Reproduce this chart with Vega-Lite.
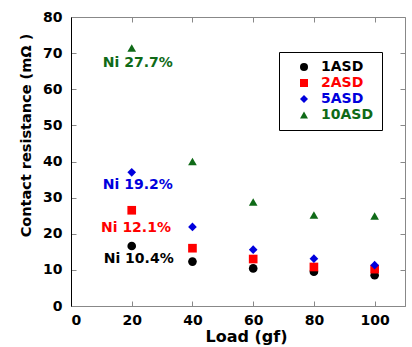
{
  "$schema": "https://vega.github.io/schema/vega-lite/v6.json",
  "autosize": {"type": "none"},
  "width": 334,
  "height": 289,
  "padding": {"left": 71, "top": 17, "right": 7, "bottom": 41},
  "background": "white",
  "config": {
    "view": {"stroke": "#888888", "strokeWidth": 1},
    "axis": {
      "grid": false,
      "labelFont": "DejaVu Sans",
      "labelFontWeight": "bold",
      "labelFontSize": 14,
      "labelColor": "black",
      "titleFont": "DejaVu Sans",
      "titleFontWeight": "bold",
      "titleFontSize": 16,
      "titleColor": "black",
      "tickColor": "#888888",
      "tickSize": -5,
      "tickWidth": 1
    }
  },
  "datasets": {
    "points": [
      {"load": 20, "resistance": 16.6, "series": "1ASD"},
      {"load": 40, "resistance": 12.3, "series": "1ASD"},
      {"load": 60, "resistance": 10.4, "series": "1ASD"},
      {"load": 80, "resistance": 9.5, "series": "1ASD"},
      {"load": 100, "resistance": 8.5, "series": "1ASD"},
      {"load": 20, "resistance": 26.5, "series": "2ASD"},
      {"load": 40, "resistance": 16.0, "series": "2ASD"},
      {"load": 60, "resistance": 13.0, "series": "2ASD"},
      {"load": 80, "resistance": 10.8, "series": "2ASD"},
      {"load": 100, "resistance": 10.2, "series": "2ASD"},
      {"load": 20, "resistance": 37.0, "series": "5ASD"},
      {"load": 40, "resistance": 21.9, "series": "5ASD"},
      {"load": 60, "resistance": 15.6, "series": "5ASD"},
      {"load": 80, "resistance": 13.1, "series": "5ASD"},
      {"load": 100, "resistance": 11.3, "series": "5ASD"},
      {"load": 20, "resistance": 71.4, "series": "10ASD"},
      {"load": 40, "resistance": 40.0, "series": "10ASD"},
      {"load": 60, "resistance": 28.8, "series": "10ASD"},
      {"load": 80, "resistance": 25.2, "series": "10ASD"},
      {"load": 100, "resistance": 24.9, "series": "10ASD"}
    ],
    "labels": [
      {"load": 22, "resistance": 67.4, "series": "10ASD", "label": "Ni 27.7%"},
      {"load": 22, "resistance": 33.4, "series": "5ASD", "label": "Ni 19.2%"},
      {"load": 21.4, "resistance": 21.7, "series": "2ASD", "label": "Ni 12.1%"},
      {"load": 22.3, "resistance": 13.1, "series": "1ASD", "label": "Ni 10.4%"}
    ]
  },
  "resolve": {"axis": {"x": "independent", "y": "independent"}},
  "layer": [
    {
      "data": {"name": "points"},
      "mark": {"type": "point", "filled": true, "size": 75, "opacity": 1},
      "encoding": {
        "x": {
          "field": "load", "type": "quantitative",
          "scale": {"domain": [0, 110], "nice": false, "zero": false},
          "axis": {"orient": "bottom", "values": [0, 20, 40, 60, 80, 100], "title": "Load (gf)", "domainColor": "#888888", "labelPadding": 12, "titleX": 175, "titleY": 30, "titleBaseline": "middle", "titleAnchor": "middle"}
        },
        "y": {
          "field": "resistance", "type": "quantitative",
          "scale": {"domain": [0, 80], "nice": false, "zero": false},
          "axis": {"orient": "left", "values": [0, 10, 20, 30, 40, 50, 60, 70, 80], "title": "Contact resistance (mΩ )", "titleFontSize": 14.5, "domainColor": "black", "labelPadding": 14, "titleX": -45, "titleY": 118, "titleBaseline": "middle", "titleAnchor": "middle", "titleAngle": -90}
        },
        "color": {
          "field": "series", "type": "nominal",
          "scale": {"domain": ["1ASD", "2ASD", "5ASD", "10ASD"], "range": ["#000000", "#ff0000", "#0000dd", "#0f6a17"]},
          "legend": {
            "orient": "none", "legendX": 208, "legendY": 35, "title": null,
            "strokeColor": "black", "fillColor": "white", "padding": 8,
            "symbolOffset": 10, "labelOffset": 10, "symbolSize": 64, "symbolStrokeWidth": 0,
            "labelFont": "DejaVu Sans", "labelFontWeight": "bold", "labelFontSize": 14,
            "labelColor": {"expr": "scale('color', datum.value)"}
          }
        },
        "shape": {
          "field": "series", "type": "nominal",
          "scale": {"domain": ["1ASD", "2ASD", "5ASD", "10ASD"], "range": ["circle", "square", "diamond", "triangle-up"]},
          "legend": {
            "orient": "none", "legendX": 208, "legendY": 35, "title": null,
            "strokeColor": "black", "fillColor": "white", "padding": 8,
            "symbolOffset": 10, "labelOffset": 10, "symbolSize": 64, "symbolStrokeWidth": 0,
            "labelFont": "DejaVu Sans", "labelFontWeight": "bold", "labelFontSize": 14,
            "labelColor": {"expr": "scale('color', datum.value)"}
          }
        }
      }
    },
    {
      "data": {"name": "labels"},
      "mark": {"type": "text", "font": "DejaVu Sans", "fontWeight": "bold", "fontSize": 14, "align": "center", "baseline": "middle"},
      "encoding": {
        "x": {
          "field": "load", "type": "quantitative",
          "scale": {"domain": [0, 110], "nice": false, "zero": false},
          "axis": {"orient": "top", "values": [0, 20, 40, 60, 80, 100], "title": null, "labels": false, "domain": false}
        },
        "y": {
          "field": "resistance", "type": "quantitative",
          "scale": {"domain": [0, 80], "nice": false, "zero": false},
          "axis": {"orient": "right", "values": [0, 10, 20, 30, 40, 50, 60, 70, 80], "title": null, "labels": false, "domain": false}
        },
        "text": {"field": "label"},
        "color": {"field": "series", "type": "nominal", "legend": null}
      }
    }
  ]
}
